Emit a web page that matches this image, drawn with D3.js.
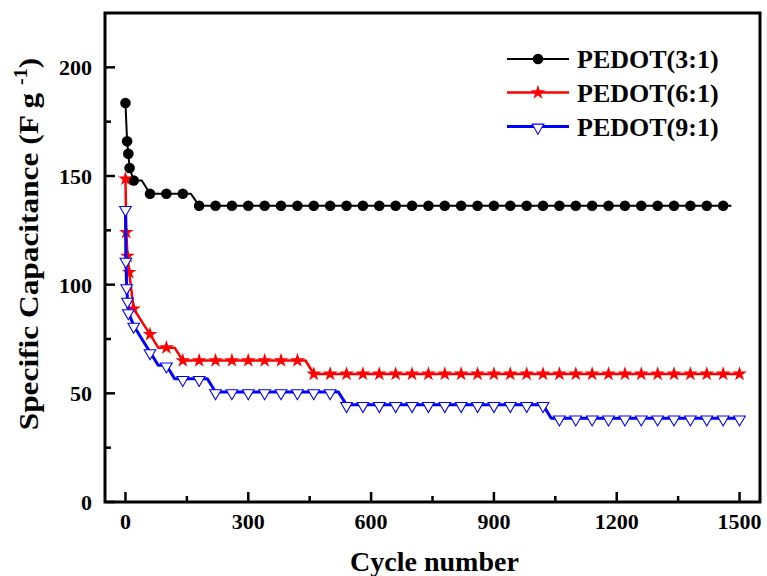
<!DOCTYPE html>
<html>
<head>
<meta charset="utf-8">
<script src="https://cdn.jsdelivr.net/npm/d3@7"></script>
<style>
  body { margin: 0; background: #fff; }
  svg { display: block; }
  text { font-family: "Times New Roman", "Liberation Serif", serif; font-weight: bold; }
</style>
</head>
<body>
<svg id="chart" width="767" height="576"></svg>
<script>
// cycle numbers for the regular 20-cycle readings
const cycles = [20, 40, 60, 80, 100, 120, 140, 160, 180, 200, 220, 240, 260, 280, 300, 320, 340, 360, 380, 400,
  420, 440, 460, 480, 500, 520, 540, 560, 580, 600, 620, 640, 660, 680, 700, 720, 740, 760, 780, 800,
  820, 840, 860, 880, 900, 920, 940, 960, 980, 1000, 1020, 1040, 1060, 1080, 1100, 1120, 1140, 1160, 1180, 1200,
  1220, 1240, 1260, 1280, 1300, 1320, 1340, 1360, 1380, 1400, 1420, 1440, 1460, 1480, 1500];

// first few cycles are recorded more densely
const earlyCycles31 = [0, 4, 7, 10];
const earlyValues31 = [183.6, 166, 160.2, 153.7];
const earlyCycles61 = [0, 2, 5, 9];
const earlyValues61 = [148.7, 124.1, 113.1, 105.7];
const earlyCycles91 = [0, 1, 3, 5, 7];
const earlyValues91 = [134.9, 111.1, 98.9, 92.7, 87.4];

// PEDOT(3:1) stops at cycle 1480
const values31 = [147.9, 147.9, 141.8, 141.8, 141.8, 141.8, 141.8, 141.8, 136.3, 136.3,
  136.3, 136.3, 136.3, 136.3, 136.3, 136.3, 136.3, 136.3, 136.3, 136.3,
  136.3, 136.3, 136.3, 136.3, 136.3, 136.3, 136.3, 136.3, 136.3, 136.3,
  136.3, 136.3, 136.3, 136.3, 136.3, 136.3, 136.3, 136.3, 136.3, 136.3,
  136.3, 136.3, 136.3, 136.3, 136.3, 136.3, 136.3, 136.3, 136.3, 136.3,
  136.3, 136.3, 136.3, 136.3, 136.3, 136.3, 136.3, 136.3, 136.3, 136.3,
  136.3, 136.3, 136.3, 136.3, 136.3, 136.3, 136.3, 136.3, 136.3, 136.3,
  136.3, 136.3, 136.3, 136.3];
const values61 = [88.9, 83, 77.1, 71, 71, 71, 65.1, 65.1, 65.1, 65.1,
  65.1, 65.1, 65.1, 65.1, 65.1, 65.1, 65.1, 65.1, 65.1, 65.1,
  65.1, 65.1, 58.9, 58.9, 58.9, 58.9, 58.9, 58.9, 58.9, 58.9,
  58.9, 58.9, 58.9, 58.9, 58.9, 58.9, 58.9, 58.9, 58.9, 58.9,
  58.9, 58.9, 58.9, 58.9, 58.9, 58.9, 58.9, 58.9, 58.9, 58.9,
  58.9, 58.9, 58.9, 58.9, 58.9, 58.9, 58.9, 58.9, 58.9, 58.9,
  58.9, 58.9, 58.9, 58.9, 58.9, 58.9, 58.9, 58.9, 58.9, 58.9,
  58.9, 58.9, 58.9, 58.9, 58.9];
const values91 = [81.2, 75, 69, 62.9, 62.9, 56.7, 56.7, 56.7, 56.7, 56.7,
  50.6, 50.6, 50.6, 50.6, 50.6, 50.6, 50.6, 50.6, 50.6, 50.6,
  50.6, 50.6, 50.6, 50.6, 50.6, 50.6, 44.7, 44.7, 44.7, 44.7,
  44.7, 44.7, 44.7, 44.7, 44.7, 44.7, 44.7, 44.7, 44.7, 44.7,
  44.7, 44.7, 44.7, 44.7, 44.7, 44.7, 44.7, 44.7, 44.7, 44.7,
  44.7, 38.5, 38.5, 38.5, 38.5, 38.5, 38.5, 38.5, 38.5, 38.5,
  38.5, 38.5, 38.5, 38.5, 38.5, 38.5, 38.5, 38.5, 38.5, 38.5,
  38.5, 38.5, 38.5, 38.5, 38.5];

const seriesNames = ["PEDOT(3:1)", "PEDOT(6:1)", "PEDOT(9:1)"];
const xTicks = [0, 300, 600, 900, 1200, 1500];
const yTicks = [0, 50, 100, 150, 200];

const svg = d3.select("#chart");
const plot = { left: 105, right: 760, top: 13, bottom: 502 };

const x = d3.scaleLinear().domain([-50, 1550]).range([plot.left, plot.right]);
const y = d3.scaleLinear().domain([0, 225]).range([plot.bottom, plot.top]);

// build point lists
function makeSeries(earlyC, earlyV, vals) {
  const pts = earlyC.map((c, i) => ({ c: c, v: earlyV[i] }));
  vals.forEach((v, i) => pts.push({ c: cycles[i], v: v }));
  return pts;
}

const series = [
  { name: seriesNames[0], color: "#000", width: 2, pts: makeSeries(earlyCycles31, earlyValues31, values31), symbol: "circle" },
  { name: seriesNames[1], color: "#ff0000", width: 2.5, pts: makeSeries(earlyCycles61, earlyValues61, values61), symbol: "star" },
  { name: seriesNames[2], color: "#0000ff", width: 3, pts: makeSeries(earlyCycles91, earlyValues91, values91), symbol: "triangle" }
];

// marker only on every second regular reading (like Origin's skip points)
const showMarker = (d) => d.c < 20 || (d.c - 20) % 40 === 0;

const line = d3.line().x(d => x(d.c)).y(d => y(d.v));

function drawMarker(g, s, px, py) {
  if (s.symbol === "circle") {
    g.append("circle").attr("cx", px).attr("cy", py).attr("r", 5.3).attr("fill", "#000");
  } else if (s.symbol === "star") {
    g.append("path")
      .attr("d", d3.symbol().type(d3.symbolStar).size(66)())
      .attr("transform", `translate(${px},${py})`)
      .attr("fill", s.color);
  } else {
    g.append("path")
      .attr("d", d3.symbol().type(d3.symbolTriangle).size(58)())
      .attr("transform", `translate(${px},${py + 1}) rotate(180)`)
      .attr("fill", "#fff")
      .attr("stroke", s.color)
      .attr("stroke-width", 1.1);
  }
}

// lines and markers
series.forEach(s => {
  const g = svg.append("g");
  g.append("path")
    .datum(s.pts)
    .attr("fill", "none")
    .attr("stroke", s.color)
    .attr("stroke-width", s.width)
    .attr("stroke-linejoin", "round")
    .attr("d", line);
  s.pts.filter(showMarker).forEach(d => drawMarker(g, s, x(d.c), y(d.v)));
});

// frame
svg.append("rect")
  .attr("x", plot.left).attr("y", plot.top)
  .attr("width", plot.right - plot.left).attr("height", plot.bottom - plot.top)
  .attr("fill", "none").attr("stroke", "#000").attr("stroke-width", 3);

// ticks pointing inwards
const xMinor = [150, 450, 750, 1050, 1350];
const yMinor = [25, 75, 125, 175];

svg.append("g").selectAll("line.xt")
  .data(xTicks.map(t => ({ t, len: 10 })).concat(xMinor.map(t => ({ t, len: 6 }))))
  .join("line")
  .attr("x1", d => x(d.t)).attr("x2", d => x(d.t))
  .attr("y1", plot.bottom).attr("y2", d => plot.bottom - d.len)
  .attr("stroke", "#000").attr("stroke-width", 2.5);

svg.append("g").selectAll("line.yt")
  .data(yTicks.map(t => ({ t, len: 10 })).concat(yMinor.map(t => ({ t, len: 6 }))))
  .join("line")
  .attr("x1", plot.left).attr("x2", d => plot.left + d.len)
  .attr("y1", d => y(d.t)).attr("y2", d => y(d.t))
  .attr("stroke", "#000").attr("stroke-width", 2.5);

// tick labels
svg.append("g").selectAll("text")
  .data(xTicks)
  .join("text")
  .attr("x", d => x(d)).attr("y", 529)
  .attr("text-anchor", "middle")
  .attr("font-size", 22)
  .text(d => d);

svg.append("g").selectAll("text")
  .data(yTicks)
  .join("text")
  .attr("x", 92).attr("y", d => y(d) + 8)
  .attr("text-anchor", "end")
  .attr("font-size", 22)
  .text(d => d);

// axis titles
svg.append("text")
  .attr("x", (plot.left + plot.right) / 2 + 2).attr("y", 571)
  .attr("text-anchor", "middle")
  .attr("font-size", 28)
  .text("Cycle number");

// the original title is drawn a bit stretched along its length
const yTitle = svg.append("text")
  .attr("transform", "translate(38,244) rotate(-90) scale(1.12,1)")
  .attr("text-anchor", "middle")
  .attr("font-size", 28);
yTitle.append("tspan").text("Specific Capacitance (F g ");
yTitle.append("tspan").attr("font-size", 18).attr("dy", -11).text("-1");
yTitle.append("tspan").attr("dy", 11).text(")");

// legend
const legendY = [59, 92.5, 126.5];
series.forEach((s, i) => {
  const g = svg.append("g");
  g.append("line")
    .attr("x1", 507).attr("x2", 569)
    .attr("y1", legendY[i]).attr("y2", legendY[i])
    .attr("stroke", s.color).attr("stroke-width", s.width);
  drawMarker(g, s, 538, legendY[i]);
  g.append("text")
    .attr("x", 577).attr("y", legendY[i] + 9)
    .attr("font-size", 26)
    .text(s.name);
});
</script>
</body>
</html>
